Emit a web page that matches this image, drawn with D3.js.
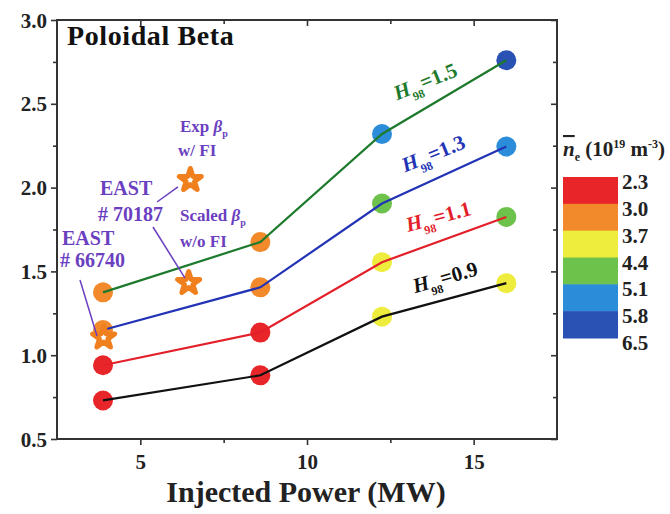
<!DOCTYPE html>
<html><head><meta charset="utf-8">
<script src="https://cdn.jsdelivr.net/npm/d3@7"></script>
<style>body{margin:0;background:#fff}svg{display:block}text{font-family:"Liberation Serif","Times New Roman",serif;font-weight:bold}</style>
</head><body>
<svg id="c" width="670" height="514"></svg>
<script>
// ---- data ----
const power = [3.88, 8.6, 12.25, 15.98];
const h98Labels = ["0.9", "1.1", "1.3", "1.5"];
const beta09 = [0.73, 0.88, 1.23, 1.43];
const beta11 = [0.94, 1.135, 1.555, 1.825];
const beta13 = [1.15, 1.405, 1.905, 2.245];
const beta15 = [1.375, 1.675, 2.32, 2.76];
// density class index per point (0:2.3-3.0 ... 5:5.8-6.5)
const dens09 = [0, 0, 2, 2];
const dens11 = [0, 0, 2, 3];
const dens13 = [1, 1, 3, 4];
const dens15 = [1, 1, 4, 5];
const lineColors = ["#111111", "#e3202a", "#2233b5", "#1d7a2c"];
const densTicks = ["2.3", "3.0", "3.7", "4.4", "5.1", "5.8", "6.5"];
const densColors = ["#e8262a", "#f28a2c", "#eeec3c", "#6cc24a", "#2b8cd9", "#2a52b4"];
const starX = [3.9, 6.45, 6.5];
const starY = [1.105, 1.43, 2.045];
const xTicks = [5, 10, 15];
const xMinor = [7.5, 12.5];
const yTicks = [0.5, 1.0, 1.5, 2.0, 2.5, 3.0];
const yMinor = [0.75, 1.25, 1.75, 2.25, 2.75];
// label anchors (data coords) and angles for H98 labels
const labX = [13.24, 13.03, 12.94, 12.7];
const labY = [1.37, 1.735, 2.09, 2.52];
const labAng = [-16, -15, -22, -22];

const svg = d3.select("#c");
const x = d3.scaleLinear().domain([2.5, 17.5]).range([57, 557]);
const y = d3.scaleLinear().domain([0.5, 3.0]).range([439, 20]);
const axisCol = "#333";

// axes
const g = svg.append("g");
function axis(gen, tr, ticks, size, labels) {
  const a = g.append("g").attr("transform", tr)
    .call(gen.tickValues(ticks).tickSize(size).tickFormat(labels ? d3.format(labels) : ""));
  a.attr("font-family", null);
  a.select(".domain").remove();
  a.selectAll("line").attr("stroke", axisCol).attr("stroke-width", 1.6);
  return a;
}
const bx = axis(d3.axisBottom(x), "translate(0,439)", xTicks, 6, "d");
bx.selectAll("text").attr("font-size", 21).attr("fill", "#222").attr("dy", "1.0em");
axis(d3.axisBottom(x), "translate(0,439)", xMinor, 4, null);
axis(d3.axisTop(x), "translate(0,20)", xTicks, -6, null);
axis(d3.axisTop(x), "translate(0,20)", xMinor, -4, null);
const ly = axis(d3.axisLeft(y), "translate(57,0)", yTicks, 6, ".1f");
ly.selectAll("text").attr("font-size", 21).attr("fill", "#222").attr("dx", "-1").attr("dy", "0.34em");
axis(d3.axisLeft(y), "translate(57,0)", yMinor, 4, null);
axis(d3.axisRight(y), "translate(557,0)", yTicks, -6, null);
axis(d3.axisRight(y), "translate(557,0)", yMinor, -4, null);
g.append("rect").attr("x", 57).attr("y", 20).attr("width", 500).attr("height", 419)
  .attr("fill", "none").attr("stroke", axisCol).attr("stroke-width", 2);

// series
const betas = [beta09, beta11, beta13, beta15];
const dens = [dens09, dens11, dens13, dens15];
const line = d3.line().x(d => x(d[0])).y(d => y(d[1]));
betas.forEach((b, i) => {
  svg.append("g").selectAll("circle").data(power.map((p, j) => [p, b[j], dens[i][j]]))
    .join("circle").attr("cx", d => x(d[0])).attr("cy", d => y(d[1])).attr("r", 10)
    .attr("fill", d => densColors[d[2]]);
});
betas.forEach((b, i) => {
  svg.append("path").datum(power.map((p, j) => [p, b[j]])).attr("d", line)
    .attr("fill", "none").attr("stroke", lineColors[i]).attr("stroke-width", 2.2);
});

// stars
const star = d3.symbol().type(d3.symbolStar).size(150);
svg.append("g").selectAll("path").data(starX.map((v, i) => [v, starY[i]])).join("path")
  .attr("d", star).attr("transform", d => `translate(${x(d[0])},${y(d[1])})`)
  .attr("fill", "#fff").attr("stroke", "#f07f1e").attr("stroke-width", 5)
  .attr("stroke-linejoin", "round");

// H98 labels
h98Labels.forEach((lab, i) => {
  const t = svg.append("text").attr("fill", lineColors[i]).attr("font-size", 21)
    .attr("transform", `translate(${x(labX[i])},${y(labY[i])}) rotate(${labAng[i]})`);
  t.append("tspan").attr("font-style", "italic").text("H");
  t.append("tspan").attr("font-size", 12).attr("dy", 7).text("98");
  t.append("tspan").attr("dy", -7).text("=" + lab);
});

// annotations
const purple = "#6b3fbf";
const ann = svg.append("g").attr("fill", purple);
function txt(xv, yv, size) {
  return ann.append("text").attr("x", x(xv)).attr("y", y(yv)).attr("font-size", size);
}
function beta(t) {
  t.append("tspan").attr("font-style", "italic").text(" β");
  t.append("tspan").attr("font-size", 10).attr("dy", 5).text("p");
}
let t = txt(6.19, 2.33, 17); t.append("tspan").text("Exp"); beta(t);
txt(6.13, 2.19, 17).text("w/ FI");
txt(3.79, 1.956, 20).text("EAST");
txt(3.73, 1.80, 20).text("# 70187");
t = txt(6.19, 1.80, 17); t.append("tspan").text("Scaled"); beta(t);
txt(6.19, 1.646, 17).text("w/o FI");
txt(2.65, 1.657, 20).text("EAST");
txt(2.59, 1.526, 20).text("# 66740");
const leaders = [[5.5, 1.914, 6.13, 2.004], [5.38, 1.765, 6.34, 1.46], [3.19, 1.449, 3.7, 1.115]];
svg.append("g").selectAll("line").data(leaders).join("line")
  .attr("x1", d => x(d[0])).attr("y1", d => y(d[1])).attr("x2", d => x(d[2])).attr("y2", d => y(d[3]))
  .attr("stroke", purple).attr("stroke-width", 1.5);

// title
svg.append("text").attr("x", 67).attr("y", 45).attr("font-size", 28).attr("letter-spacing", 0.6).attr("fill", "#111").text("Poloidal Beta");
svg.append("text").attr("x", 306).attr("y", 502).attr("text-anchor", "middle").attr("font-size", 30).attr("fill", "#222").text("Injected Power (MW)");

// colorbar
const cb = d3.scaleLinear().domain([0, 6]).range([177, 338]);
svg.append("g").selectAll("rect").data(densColors).join("rect")
  .attr("x", 563).attr("width", 55).attr("y", (d, i) => cb(i)).attr("height", cb(1) - cb(0) + 0.5)
  .attr("fill", d => d);
svg.append("g").selectAll("text").data(densTicks).join("text")
  .attr("x", 622).attr("y", (d, i) => cb(i) + 12).attr("font-size", 21).attr("fill", "#222").text(d => d);
const ct = svg.append("text").attr("x", 563).attr("y", 156).attr("font-size", 21).attr("fill", "#222");
ct.append("tspan").attr("font-style", "italic").attr("text-decoration", "overline").text("n");
ct.append("tspan").attr("font-size", 12).attr("dy", 5).text("e");
ct.append("tspan").attr("dy", -5).text(" (10");
ct.append("tspan").attr("font-size", 12).attr("dy", -8).text("19");
ct.append("tspan").attr("dy", 8).text(" m");
ct.append("tspan").attr("font-size", 12).attr("dy", -8).text("-3");
ct.append("tspan").attr("dy", 8).text(")");
</script>
</body></html>
